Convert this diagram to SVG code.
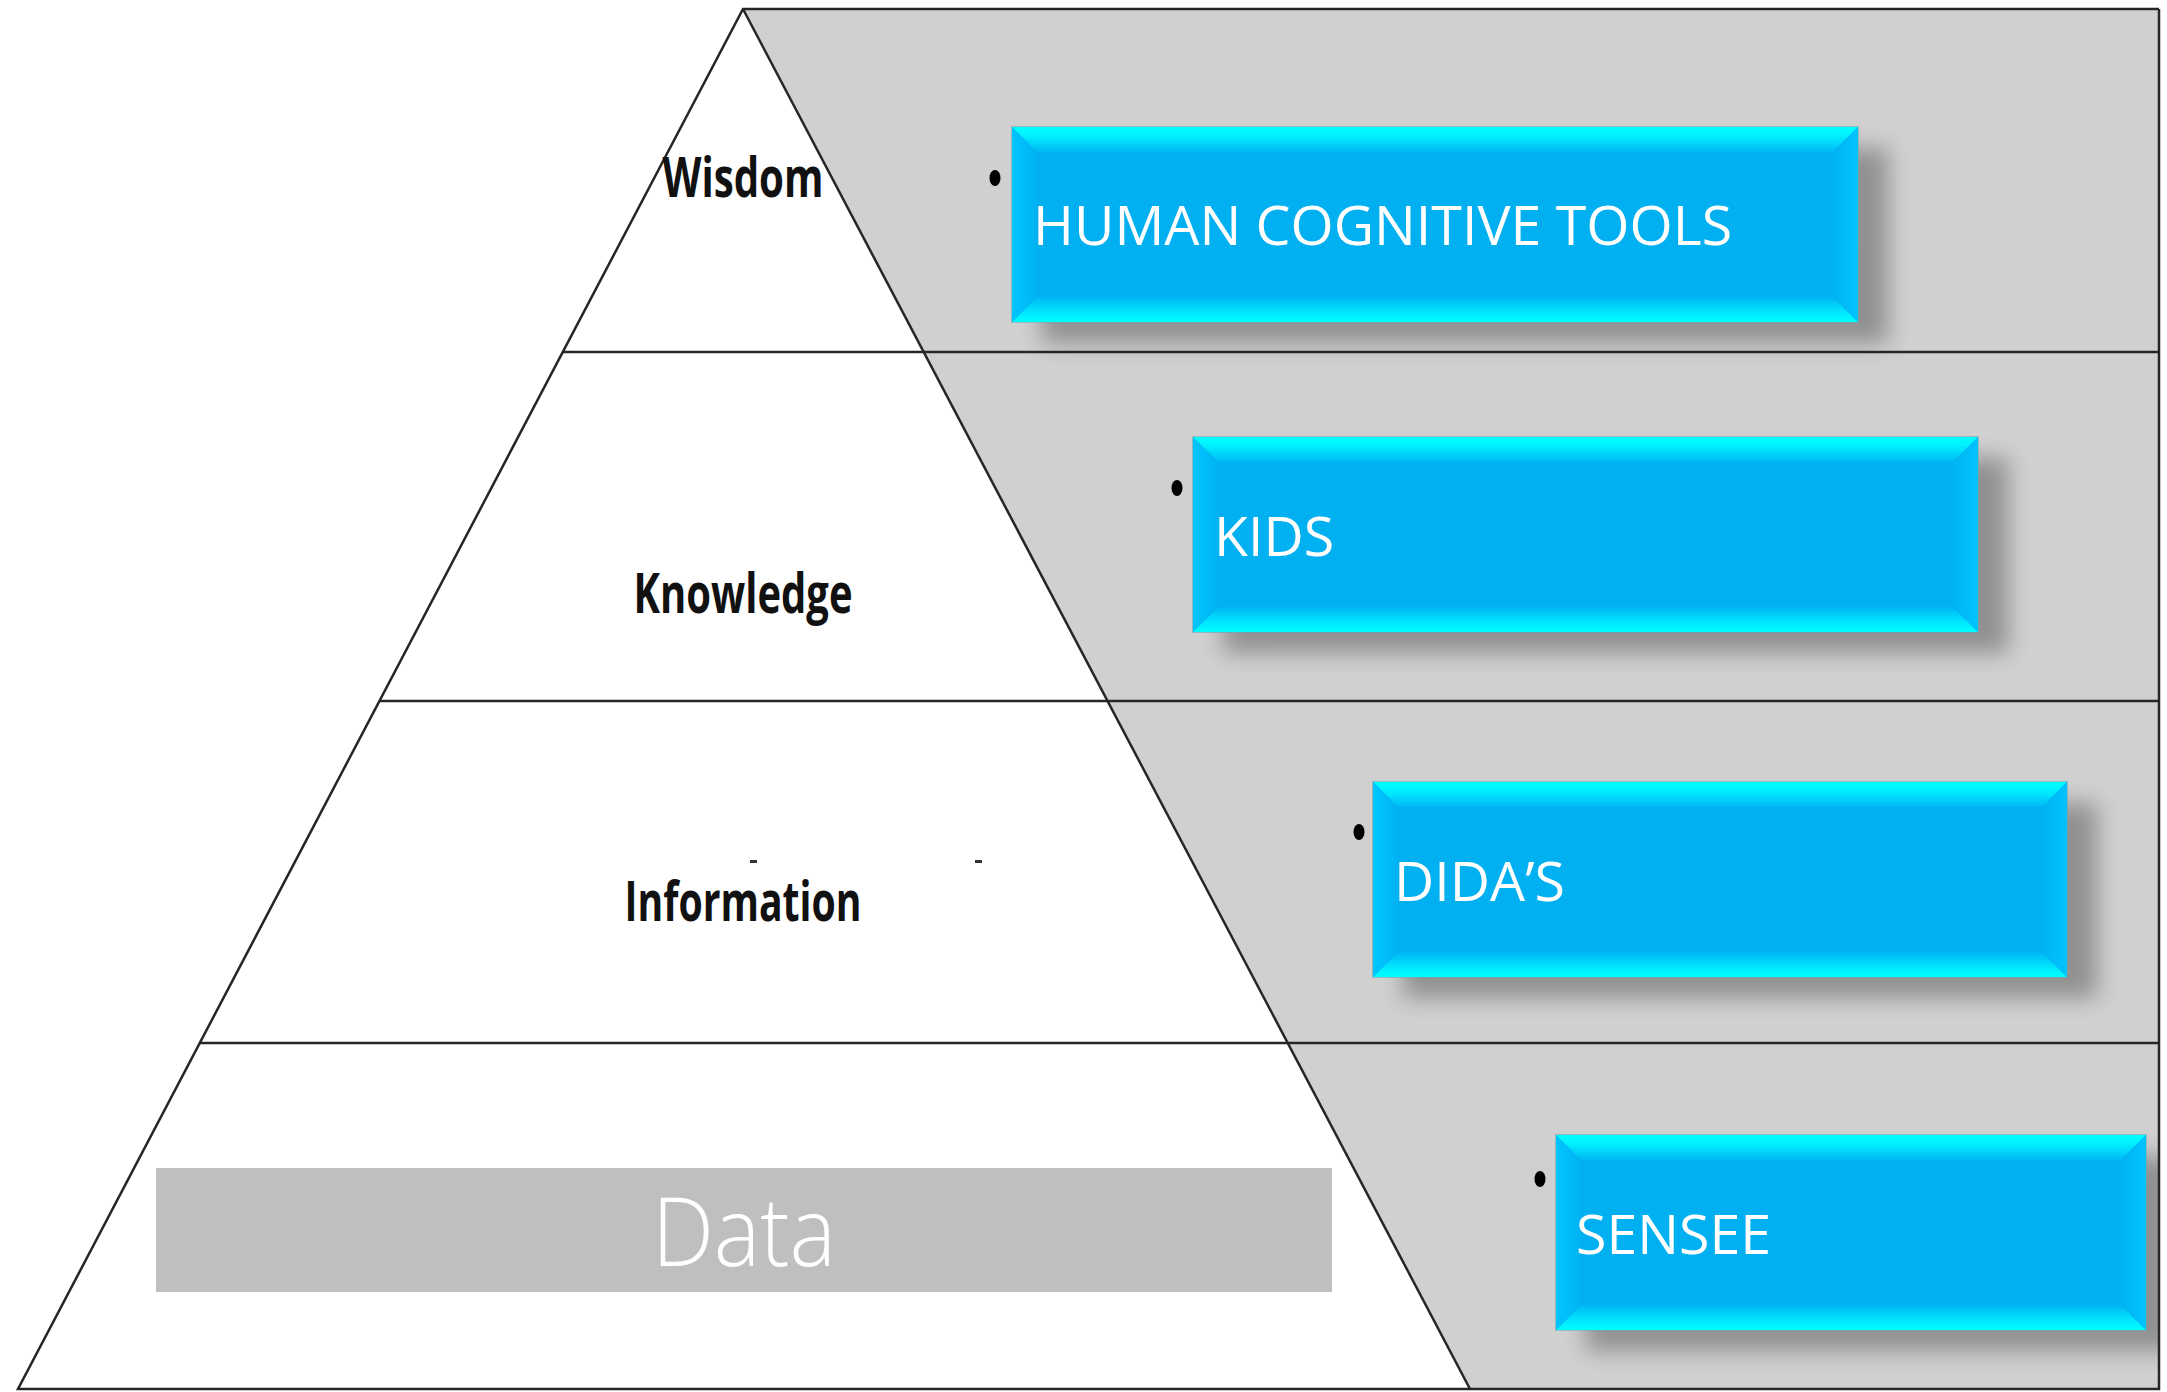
<svg xmlns="http://www.w3.org/2000/svg" width="2167" height="1392" viewBox="0 0 2167 1392">
<style>
.edge{stroke:#262626;stroke-width:2.5;fill:none}
.lvl{font-family:"Liberation Sans Narrow","Open Sans","Liberation Sans",sans-serif;font-weight:700;font-size:55px;fill:#111;text-anchor:middle}
.btxt{font-family:"Open Sans","Noto Sans","Liberation Sans",sans-serif;font-size:55.5px;fill:#fff}
.base{fill:#00b0f0;stroke:#6aa9b4;stroke-width:1.2}
.bt{fill:url(#gTop)}
.bb{fill:url(#gBot)}
.bl{fill:url(#gLeft)}
.br{fill:url(#gRight)}
.shadow{fill:#000;opacity:0.3;filter:url(#blur)}
.bullet{fill:#000}
</style>
<defs>
<linearGradient id="gTop" x1="0" y1="0" x2="0" y2="1"><stop offset="0" stop-color="#00ffff"/><stop offset="0.35" stop-color="#00f0ff"/><stop offset="1" stop-color="#00b8f4"/></linearGradient>
<linearGradient id="gBot" x1="0" y1="1" x2="0" y2="0"><stop offset="0" stop-color="#00ffff"/><stop offset="0.35" stop-color="#00eaff"/><stop offset="1" stop-color="#00b6f3"/></linearGradient>
<linearGradient id="gLeft" x1="0" y1="0" x2="1" y2="0"><stop offset="0" stop-color="#00c6ff"/><stop offset="1" stop-color="#00b2f1"/></linearGradient>
<linearGradient id="gRight" x1="1" y1="0" x2="0" y2="0"><stop offset="0" stop-color="#00c4ff"/><stop offset="1" stop-color="#00b2f1"/></linearGradient>
<filter id="blur" x="-20%" y="-40%" width="140%" height="180%"><feGaussianBlur stdDeviation="11"/></filter>
<clipPath id="grayClip"><polygon points="743,9 2159,9 2159,1389 1470,1389"/></clipPath>
</defs>

<rect x="0" y="0" width="2167" height="1392" fill="#fff"/>

<g id="background">
<polygon points="743,9 2159,9 2159,1389 1470,1389" fill="#d0d0d0"/>
<polygon points="743,9 18,1389 1470,1389" fill="#fff"/>
</g>

<g id="shadows" clip-path="url(#grayClip)">
<rect class="shadow" x="1042" y="148" width="846" height="195"/>
<rect class="shadow" x="1223" y="458" width="785" height="195"/>
<rect class="shadow" x="1403" y="803" width="694" height="195"/>
<rect class="shadow" x="1586" y="1156" width="590" height="195"/>
</g>

<g id="connectors">
<polyline class="edge" points="2159,9 743,9 18,1389 2159,1389 2159,9"/>
<line class="edge" x1="743" y1="9" x2="1470" y2="1389"/>
<line class="edge" x1="562" y1="352" x2="2159" y2="352"/>
<line class="edge" x1="379" y1="701" x2="2159" y2="701"/>
<line class="edge" x1="200" y1="1043" x2="2159" y2="1043"/>
</g>

<g id="wisdom">
<text class="lvl" x="743" y="197" textLength="161" lengthAdjust="spacingAndGlyphs">Wisdom</text>
</g>
<g id="knowledge">
<text class="lvl" x="743" y="613" textLength="219" lengthAdjust="spacingAndGlyphs">Knowledge</text>
</g>
<g id="information">
<rect x="750" y="860" width="7" height="3" fill="#333"/>
<rect x="975" y="860" width="7" height="3" fill="#333"/>
<text class="lvl" x="743" y="921" textLength="237" lengthAdjust="spacingAndGlyphs">Information</text>
</g>
<g id="data">
<rect x="156" y="1168" width="1176" height="124" fill="#bfbfbf"/>
<text x="744" y="1266" text-anchor="middle" font-family="'Open Sans','Noto Sans',sans-serif" font-weight="300" font-size="96" fill="#fff" textLength="184" lengthAdjust="spacingAndGlyphs">Data</text>
</g>

<g id="box-human">
<ellipse class="bullet" cx="995" cy="178" rx="5.5" ry="8"/>
<rect class="base" x="1012" y="127" width="846" height="195"/>
<polygon class="bt" points="1012,127 1858,127 1833,152 1037,152"/>
<polygon class="bb" points="1012,322 1858,322 1833,297 1037,297"/>
<polygon class="bl" points="1012,127 1037,152 1037,297 1012,322"/>
<polygon class="br" points="1858,127 1833,152 1833,297 1858,322"/>
<text class="btxt" x="1033" y="245">HUMAN COGNITIVE TOOLS</text>
</g>

<g id="box-kids">
<ellipse class="bullet" cx="1177" cy="488" rx="5.5" ry="8"/>
<rect class="base" x="1193" y="437" width="785" height="195"/>
<polygon class="bt" points="1193,437 1978,437 1953,462 1218,462"/>
<polygon class="bb" points="1193,632 1978,632 1953,607 1218,607"/>
<polygon class="bl" points="1193,437 1218,462 1218,607 1193,632"/>
<polygon class="br" points="1978,437 1953,462 1953,607 1978,632"/>
<text class="btxt" x="1214" y="556">KIDS</text>
</g>

<g id="box-didas">
<ellipse class="bullet" cx="1359" cy="832" rx="5.5" ry="8"/>
<rect class="base" x="1373" y="782" width="694" height="195"/>
<polygon class="bt" points="1373,782 2067,782 2042,807 1398,807"/>
<polygon class="bb" points="1373,977 2067,977 2042,952 1398,952"/>
<polygon class="bl" points="1373,782 1398,807 1398,952 1373,977"/>
<polygon class="br" points="2067,782 2042,807 2042,952 2067,977"/>
<text class="btxt" x="1394" y="901">DIDA’S</text>
</g>

<g id="box-sensee">
<ellipse class="bullet" cx="1540" cy="1179" rx="5.5" ry="8"/>
<rect class="base" x="1556" y="1135" width="590" height="195"/>
<polygon class="bt" points="1556,1135 2146,1135 2121,1160 1581,1160"/>
<polygon class="bb" points="1556,1330 2146,1330 2121,1305 1581,1305"/>
<polygon class="bl" points="1556,1135 1581,1160 1581,1305 1556,1330"/>
<polygon class="br" points="2146,1135 2121,1160 2121,1305 2146,1330"/>
<text class="btxt" x="1576" y="1254">SENSEE</text>
</g>
</svg>
